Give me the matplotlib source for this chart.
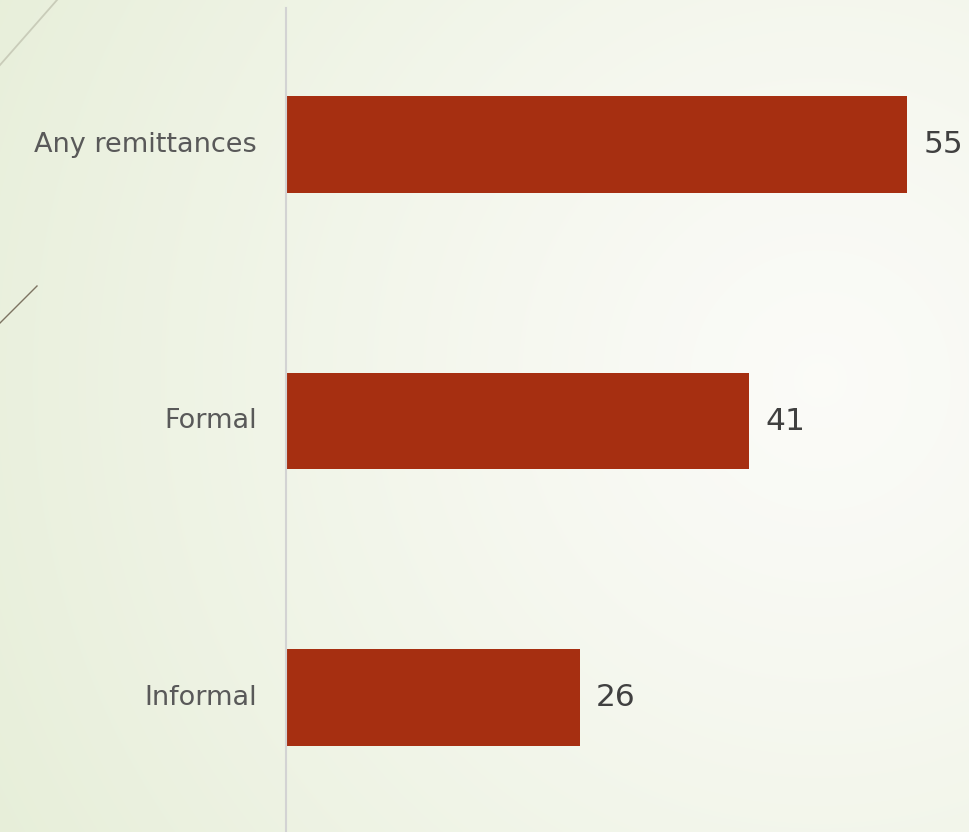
import numpy as np
import matplotlib.pyplot as plt
from matplotlib.lines import Line2D

# Share of households receiving remittances (%)
categories = ["Any remittances", "Formal", "Informal"]
values = [55, 41, 26]

bar_color = "#a62f11"
label_color = "#595959"
value_color = "#404040"

W, H, DPI = 970, 832, 100
fig = plt.figure(figsize=(W / DPI, H / DPI), dpi=DPI)

# soft green-to-white radial backdrop
bg = fig.add_axes([0, 0, 1, 1], zorder=-10)
yy, xx = np.mgrid[0:H, 0:W]
d = np.hypot((xx - 820) / 950.0, (yy - 380) / 950.0)
t = np.clip(d, 0, 1) ** 1.2
c0 = np.array([0.985, 0.985, 0.972])
c1 = np.array([0.905, 0.935, 0.850])
img = c0 + (c1 - c0) * t[..., None]
bg.imshow(img, aspect="auto", extent=[0, 1, 0, 1], origin="upper")
bg.set_axis_off()

# thin diagonal accents at the left edge
fig.add_artist(Line2D([0 / W, 57 / W], [1 - 65 / H, 1.0], transform=fig.transFigure,
                      color="#c9ccb9", lw=1.3))
fig.add_artist(Line2D([0 / W, 37 / W], [1 - 323 / H, 1 - 286 / H], transform=fig.transFigure,
                      color="#7d7462", lw=1.0))

ax = fig.add_axes([286 / W, 0, 1 - 286 / W, 1 - 8 / H])
ax.patch.set_alpha(0)
y = np.arange(len(categories))
ax.barh(y, values, height=0.35, color=bar_color)

ax.set_xlim(0, (W - 286) / 11.29)
ax.set_ylim(2.486, -0.494)

for yi, v in zip(y, values):
    ax.annotate(str(v), xy=(v, yi), xytext=(12, 0), textcoords="offset points",
                va="center", ha="left", fontsize=22.5, color=value_color)

ax.set_yticks(y)
ax.set_yticklabels(categories, fontsize=19.5, color=label_color, va="center")
ax.tick_params(axis="y", length=0, pad=21)
ax.set_xticks([])

for side in ("top", "right", "bottom"):
    ax.spines[side].set_visible(False)
ax.spines["left"].set_color("#d3d3d3")
ax.spines["left"].set_linewidth(1.5)

fig.savefig("out.png", dpi=DPI)
